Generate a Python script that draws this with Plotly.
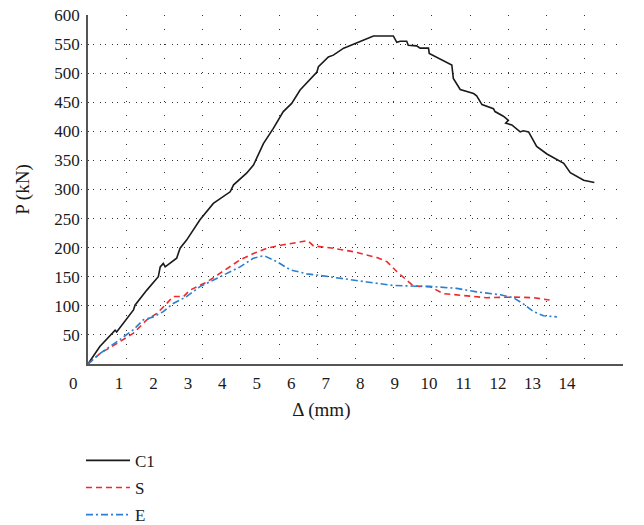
import plotly.graph_objects as go

# ---------------- data ----------------
c1_x = [0, 0.31, 0.71, 0.75, 1.19, 1.23, 1.54, 1.84, 1.89, 1.97, 2.02, 2.15, 2.32, 2.41, 2.58, 2.93,
        3.28, 3.72, 3.81, 4.15, 4.33, 4.59, 4.85, 5.11, 5.33, 5.55, 5.99, 6.03, 6.29, 6.42, 6.69,
        6.77, 7.08, 7.25, 7.47, 7.99, 8.08, 8.17, 8.34, 8.38, 8.60, 8.69, 8.91, 8.93, 9.08, 9.30,
        9.52, 9.56, 9.65, 9.74, 10.09, 10.17, 10.31, 10.61, 10.65, 10.87, 11.00, 10.93, 11.09,
        11.31, 11.39, 11.53, 11.74, 12.01, 12.45, 12.62, 12.97, 13.25]
c1_y = [0, 30, 58, 55, 93, 101, 127, 150, 167, 173, 167, 173, 182, 199, 213, 248,
        276, 296, 308, 328, 342, 379, 405, 434, 448, 471, 502, 511, 528, 531, 543,
        545, 553, 558, 564, 564, 553, 555, 555, 548, 547, 543, 543, 534, 529, 521,
        514, 491, 482, 472, 465, 461, 446, 439, 434, 426, 419, 414, 411,
        399, 401, 399, 374, 361, 345, 329, 316, 312]

s_x = [0, 0.31, 0.75, 1.19, 1.54, 1.80, 2.06, 2.23, 2.50, 2.67, 3.11, 3.46, 3.98, 4.33, 4.68,
       5.11, 5.64, 5.75, 5.90, 6.42, 6.95, 7.56, 7.82, 8.08, 8.52, 8.95, 9.30, 9.91, 10.43,
       11.13, 11.66, 12.08]
s_y = [0, 18, 35, 53, 76, 87, 104, 116, 116, 127, 141, 156, 179, 190, 199,
       205, 211, 212, 203, 199, 193, 183, 176, 159, 134, 133, 121, 117, 114,
       115, 114, 110]

e_x = [0, 0.31, 0.75, 1.19, 1.45, 1.71, 1.97, 2.23, 2.58, 2.93, 3.46, 3.98, 4.33, 4.59, 4.65,
       4.94, 5.29, 5.72, 5.99, 6.60, 7.30, 7.99, 8.52, 9.04, 9.65, 10.17, 10.79, 11.13, 11.40,
       11.66, 11.92, 12.27]
e_y = [0, 18, 38, 59, 76, 81, 90, 104, 116, 133, 150, 167, 182, 186, 185,
       176, 162, 155, 153, 147, 141, 135, 134, 133, 130, 124, 119, 114, 103,
       90, 83, 81]

x_ticks = list(range(0, 15))
y_ticks = list(range(50, 601, 50))

# ---------------- layout helpers ----------------
W, H = 644, 525
ML, MR, MT, MB = 60, 21, 15, 161
PW = W - ML - MR
PLOT_LEFT = 88           # pixel where the plot area starts

def px_to_paper_x(px):
    return (px - ML) / PW

# x tick labels of the reference are drawn on their own scale
lab_scale = 34.46        # px per unit of the label axis
lab_zero = 84.5          # px of label value 0 (nominal)
lab_range = [-0.45, 14.2]
lab_dom = [px_to_paper_x(lab_zero + lab_range[0] * lab_scale),
           px_to_paper_x(lab_zero + lab_range[1] * lab_scale)]
lab_vals = [-0.33] + x_ticks[1:]

FONT = "Liberation Serif"
fig = go.Figure()

fig.add_trace(go.Scatter(x=c1_x, y=c1_y, mode="lines", name="C1",
                         line=dict(color="#1a1a1a", width=1.6), legendgroup="a"))
fig.add_trace(go.Scatter(x=s_x, y=s_y, mode="lines", name="S",
                         line=dict(color="#ee2a2a", width=1.6, dash="6px,4px"), legendgroup="b"))
fig.add_trace(go.Scatter(x=e_x, y=e_y, mode="lines", name="E",
                         line=dict(color="#2b7fd0", width=1.6, dash="7px,3px,2px,3px"), legendgroup="c"))
# invisible trace so the label axis is drawn
fig.add_trace(go.Scatter(x=[0], y=[0], xaxis="x2", yaxis="y", mode="markers",
                         marker=dict(opacity=0), showlegend=False, hoverinfo="skip"))

fig.update_layout(
    width=W, height=H,
    margin=dict(l=ML, r=MR, t=MT, b=MB, autoexpand=False),
    paper_bgcolor="white", plot_bgcolor="rgba(0,0,0,0)",
    font=dict(family=FONT, size=17, color="#1a1a1a"),
    xaxis=dict(domain=[px_to_paper_x(PLOT_LEFT), 1], range=[0, 14], tickvals=x_ticks,
               showticklabels=False, showgrid=True, gridcolor="#333", gridwidth=1,
               griddash="1px,13.3px", showline=True, linecolor="#555", linewidth=1.5,
               zeroline=False, ticks="", automargin=False),
    xaxis2=dict(domain=lab_dom, range=lab_range, anchor="y",
                tickvals=lab_vals, ticktext=[str(v) for v in x_ticks],
                showgrid=False, showline=False, zeroline=False, ticks="",
                ticklabelstandoff=7, automargin=False,
                tickfont=dict(family=FONT, size=17),
                title=dict(text="Δ (mm)", font=dict(family=FONT, size=19), standoff=10)),
    yaxis=dict(range=[0, 600], tickvals=y_ticks, anchor="x",
               showgrid=True, gridcolor="#333", gridwidth=1, griddash="1px,11px",
               showline=True, linecolor="#555", linewidth=1.5, zeroline=False, ticks="",
               ticklabelstandoff=3, automargin=False,
               title=dict(text="P (kN)", font=dict(family=FONT, size=19), standoff=20)),
    legend=dict(x=px_to_paper_x(81), y=-0.226, xanchor="left", yanchor="top",
                traceorder="grouped", tracegroupgap=2, itemwidth=44,
                font=dict(family=FONT, size=17), bgcolor="rgba(0,0,0,0)"),
    showlegend=True,
)

fig.write_html("out.html", config={"displayModeBar": False},
               post_script="document.body.style.margin='0';")
